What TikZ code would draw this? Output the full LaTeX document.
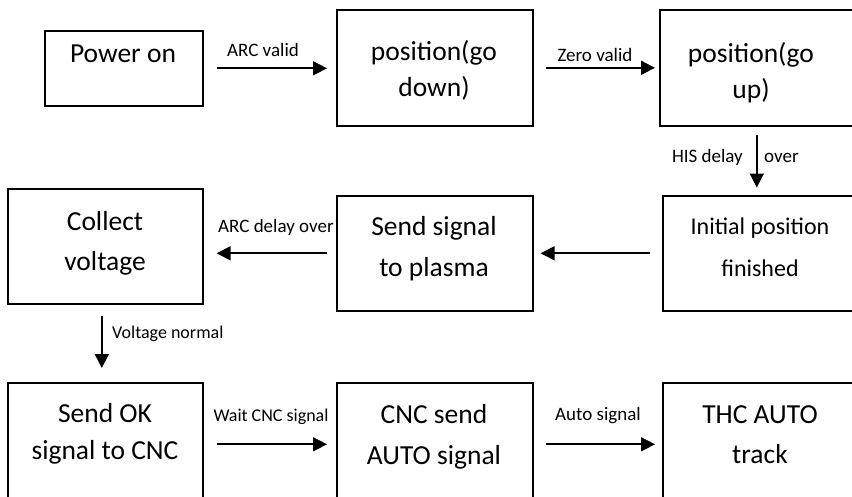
\documentclass[tikz,border=0pt]{standalone}
\usepackage{fontspec}
\setmainfont{Carlito}
\usetikzlibrary{arrows.meta,calc}
\tikzset{
  box/.style={draw=black, line width=1.6pt, rectangle, inner sep=0pt, anchor=north west},
  boxtext/.style={align=center, inner sep=0pt, font=\fontsize{27.5}{38}\selectfont},
  postext/.style={align=center, inner sep=0pt, font=\fontsize{27.5}{36}\selectfont},
  smalltext/.style={align=center, inner sep=0pt, font=\fontsize{24}{42}\selectfont},
  lbl/.style={inner sep=0pt, font=\fontsize{19}{22}\selectfont},
  lbls/.style={inner sep=0pt, font=\fontsize{18}{22}\selectfont},
  conn/.style={line width=1.7pt, -{Triangle[length=14pt,width=14pt]}}
}
\begin{document}
\begin{tikzpicture}[x=1pt,y=-1pt]
\useasboundingbox (0,0) rectangle (852,496);
\fill[white] (0,0) rectangle (852,496);
\clip (0,0) rectangle (852,496);
% boxes
\node[box, minimum width=158pt, minimum height=75pt] (pw) at (44,30) {};
\node[box, minimum width=196pt, minimum height=116pt] (pd) at (336,9) {};
\node[box, minimum width=194pt, minimum height=116pt] (pu) at (659,9) {};
\node[box, minimum width=200pt, minimum height=115pt] (ip) at (662,195) {};
\node[box, minimum width=196pt, minimum height=115pt] (ss) at (336,195) {};
\node[box, minimum width=195pt, minimum height=115pt] (cv) at (7,188) {};
\node[box, minimum width=195pt, minimum height=123pt] (ok) at (7,382) {};
\node[box, minimum width=196pt, minimum height=123pt] (cnc) at (336,382) {};
\node[box, minimum width=200pt, minimum height=123pt] (thc) at (662,382) {};
% box texts
\node[boxtext, anchor=base] (pwt) at (123,62) {Power on};
\node[postext] (pdt) at (434,70.5) {position(go\\down)};
\node[postext] (put) at (751,72.5) {position(go\\up)};
\node[smalltext] (ipt) at (760,247) {Initial position\\finished};
\node[boxtext, font=\fontsize{27.5}{41}\selectfont] (sst) at (434,249) {Send signal\\to plasma};
\node[boxtext, font=\fontsize{27.5}{39.5}\selectfont] (cvt) at (105,243.5) {Collect\\voltage};
\node[boxtext, font=\fontsize{27.5}{37}\selectfont] (okt) at (105,434) {Send OK\\signal to CNC};
\node[boxtext, font=\fontsize{27.5}{41}\selectfont] (cnct) at (434,437) {CNC send\\AUTO signal};
\node[boxtext, font=\fontsize{27.5}{40}\selectfont] (thct) at (760,435) {THC AUTO\\track};
% connectors
\draw[conn, shorten <=13pt, shorten >=9pt] (pw.east) -- (pw.east -| pd.west);
\draw[conn, shorten <=12pt, shorten >=4pt] (pd.east) -- (pu.west);
\draw[conn, shorten <=8pt, shorten >=7.5pt] (pu.south) -- (pu.south |- ip.north);
\draw[conn, shorten <=12pt, shorten >=7pt] (ip.west) -- (ss.east);
\draw[conn, shorten <=9pt, shorten >=13pt] (ss.west) -- (ss.west -| cv.east);
\draw[conn, shorten <=11pt, shorten >=14pt] ([xshift=-3.5pt]cv.south) -- ([xshift=-3.5pt]cv.south |- ok.north);
\draw[conn, shorten <=13pt, shorten >=9pt] (ok.east) -- (cnc.west);
\draw[conn, shorten <=12pt, shorten >=7pt] (cnc.east) -- (thc.west);
% labels
\node[lbl, anchor=base] (l1) at (263,56) {ARC valid};
\node[lbl, anchor=base] (l2) at (595,61) {Zero valid};
\node[lbl, anchor=base east] (l3) at (743,162) {HIS delay};
\node[lbl, anchor=base west] (l4) at (764,162) {over};
\node[lbl, anchor=base west] (l5) at (218,232) {ARC delay over};
\node[lbls, anchor=base west] (l6) at (112,338) {Voltage normal};
\node[lbls, anchor=base] (l7) at (271,421) {Wait CNC signal};
\node[lbl, anchor=base] (l8) at (598,420) {Auto signal};
\end{tikzpicture}
\end{document}
